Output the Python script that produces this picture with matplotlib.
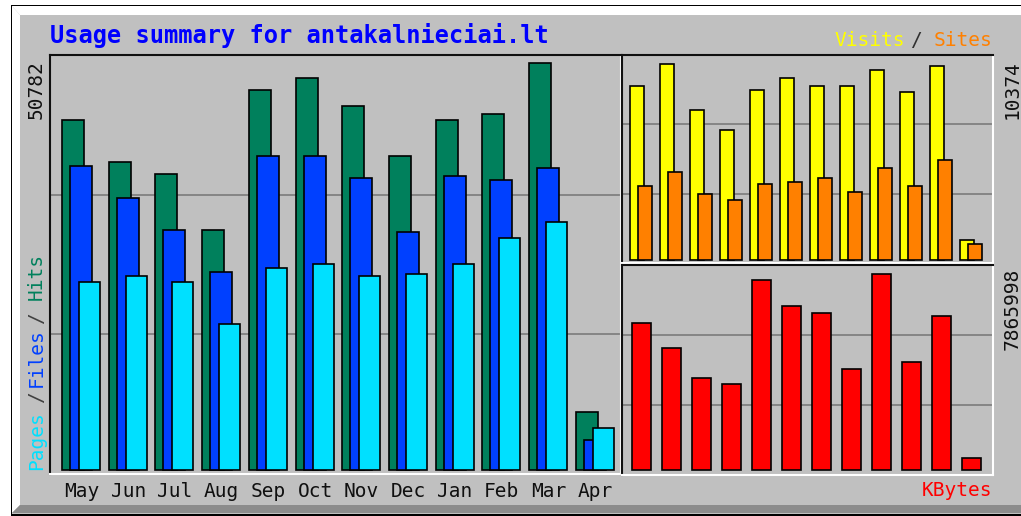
import matplotlib
matplotlib.use("Agg")
import matplotlib.pyplot as plt
from matplotlib.patches import Polygon
import numpy as np

# ============ DATA ============
months = ['May', 'Jun', 'Jul', 'Aug', 'Sep', 'Oct', 'Nov', 'Dec', 'Jan', 'Feb', 'Mar', 'Apr']
hits = [43670, 38430, 36930, 29950, 47410, 48910, 45420, 39180, 43670, 44420, 50782, 7240]
files = [37930, 33940, 29950, 24700, 39180, 39180, 36430, 29700, 36680, 36180, 37680, 3740]
pages = [23460, 24200, 23460, 18220, 25200, 25700, 24200, 24460, 25700, 28950, 30940, 5240]
visits = [9210, 10374, 7940, 6880, 9000, 9630, 9210, 9210, 10060, 8890, 10270, 1060]
sites = [3920, 4660, 3490, 3180, 4020, 4130, 4340, 3600, 4870, 3920, 5290, 850]
kbytes = [5899550, 4896230, 3692240, 3451440, 7625270, 6581810, 6300870, 4053430,
          7865998, 4334360, 6180480, 481600]

# ============ COLORS ============
BG = '#C0C0C0'
GRID = '#808080'
C_HITS = '#00805C'
C_FILES = '#0040FF'
C_PAGES = '#00E0FF'
C_VISITS = '#FFFF00'
C_SITES = '#FF8000'
C_KB = '#FF0000'
MONO = 'DejaVu Sans Mono'

W, H = 1021, 516
fig = plt.figure(figsize=(W / 100, H / 100), dpi=100, facecolor='white')


def fx(x):
    return x / W


def fy(y):
    return 1 - y / H


def px_axes(x0, y0, x1, y1):
    return fig.add_axes([fx(x0), fy(y1), (x1 - x0) / W, (y1 - y0) / H])


def poly(pts, color):
    fig.patches.append(Polygon([(fx(x), fy(y)) for x, y in pts], closed=True,
                               transform=fig.transFigure, facecolor=color,
                               edgecolor='none', zorder=-10))


# ============ BACKGROUND / BEVEL ============
poly([(11, 5), (W, 5), (W, 516), (11, 516)], 'black')
poly([(12, 6), (W, 6), (W, 514), (12, 514)], BG)
poly([(12, 6), (W, 6), (W, 15), (20, 15)], 'white')
poly([(12, 6), (20, 15), (20, 505), (12, 513)], 'white')
poly([(12, 513), (20, 505), (W, 505), (W, 513)], '#8C8C8C')


def style_axes(ax, ylo, yhi, xlo, xhi):
    ax.set_facecolor(BG)
    ax.set_ylim(ylo, yhi)
    ax.set_xlim(xlo, xhi)
    for side in ['top', 'left']:
        ax.spines[side].set_color('#101010')
        ax.spines[side].set_linewidth(1.5)
    for side in ['bottom', 'right']:
        ax.spines[side].set_color('white')
        ax.spines[side].set_linewidth(1.5)
    ax.set_yticks([])
    ax.tick_params(length=0)
    for k in (1, 2):
        ax.axhline(ylo + (yhi - ylo) * k / 3, color=GRID, lw=1.3, zorder=1)


x = np.arange(len(months))

# ============ MAIN PANEL: HITS / FILES / PAGES ============
SP = 46.7  # pixels per month in the main panel
ax = px_axes(50, 55, 621, 474)
m = max(hits)
s = 407 / m
style_axes(ax, -4 / s, m + 8 / s, -12 / SP, (621 - 62) / SP)
bar_kw = dict(align='edge', edgecolor='black', linewidth=1.2, zorder=2)
ax.bar(x, hits, width=22 / SP, color=C_HITS, **bar_kw)
ax.bar(x + 8 / SP, files, width=22 / SP, color=C_FILES, **bar_kw)
ax.bar(x + 17 / SP, pages, width=21 / SP, color=C_PAGES, **bar_kw)
ax.set_xticks(x + 19.5 / SP)
ax.set_xticklabels(months, fontsize=14, family=MONO, color='#101010')
ax.tick_params(axis='x', pad=6)

# ============ VISITS / SITES ============
ax2 = px_axes(622, 55, 993, 263)
m2 = max(visits)
s2 = 196 / m2
style_axes(ax2, -3 / s2, m2 + 9 / s2, -8 / 30, (993 - 630) / 30)
ax2.bar(x, visits, width=14 / 30, color=C_VISITS, **bar_kw)
ax2.bar(x + 8 / 30, sites, width=14 / 30, color=C_SITES, **bar_kw)
ax2.set_xticks([])

# ============ KBYTES ============
ax3 = px_axes(622, 265, 993, 475)
m3 = max(kbytes)
s3 = 196 / m3
style_axes(ax3, -5 / s3, m3 + 9 / s3, -10 / 30, (993 - 632) / 30)
ax3.bar(x, kbytes, width=19 / 30, color=C_KB, **bar_kw)
ax3.set_xticks([])

# ============ TEXT ============
fig.text(fx(50), fy(36), 'Usage summary for antakalnieciai.lt', color='#0000FF',
         fontsize=17, family=MONO, fontweight='bold', va='center', ha='left')

fig.text(fx(36.5), fy(60), str(max(hits)), rotation=90, ha='center', va='top',
         fontsize=14, family=MONO, color='#101010')
fig.text(fx(1012), fy(60), str(max(visits)), rotation=90, ha='center', va='top',
         fontsize=14, family=MONO, color='#101010')
fig.text(fx(1012), fy(268), str(max(kbytes)), rotation=90, ha='center', va='top',
         fontsize=14, family=MONO, color='#101010')

# left legend (rotated)
lab_kw = dict(rotation=90, ha='center', fontsize=14, family=MONO)
fig.text(fx(36.5), fy(470), 'Pages', va='bottom', color=C_PAGES, **lab_kw)
fig.text(fx(36.5), fy(397), '/', va='center', color='#404040', **lab_kw)
fig.text(fx(36.5), fy(387), 'Files', va='bottom', color=C_FILES, **lab_kw)
fig.text(fx(36.5), fy(318), '/', va='center', color='#404040', **lab_kw)
fig.text(fx(36.5), fy(300), 'Hits', va='bottom', color=C_HITS, **lab_kw)

# top right legend
fig.text(fx(905), fy(40), 'Visits', ha='right', va='center', fontsize=14,
         family=MONO, color=C_VISITS)
fig.text(fx(916), fy(40), '/', ha='center', va='center', fontsize=14,
         family=MONO, color='#303030')
fig.text(fx(992), fy(40), 'Sites', ha='right', va='center', fontsize=14,
         family=MONO, color=C_SITES)

fig.text(fx(992), fy(491), 'KBytes', ha='right', va='center', fontsize=14,
         family=MONO, color=C_KB)

fig.savefig('out.png', dpi=100, facecolor='white')
